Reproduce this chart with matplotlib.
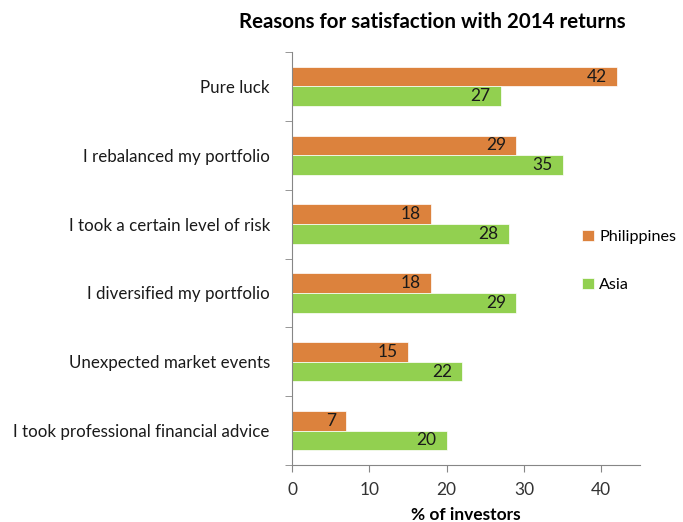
import numpy as np
import matplotlib.pyplot as plt

plt.rcParams['font.family'] = ['Lato', 'DejaVu Sans']

categories = ["Pure luck", "I rebalanced my portfolio", "I took a certain level of risk",
              "I diversified my portfolio", "Unexpected market events",
              "I took professional financial advice"]
philippines = [42, 29, 18, 18, 15, 7]
asia = [27, 35, 28, 29, 22, 20]

orange = '#dc823d'
green = '#92d050'

fig = plt.figure(figsize=(6.83, 5.22), dpi=100)
ax = fig.add_axes([292 / 683, 1 - 465 / 522, 348 / 683, 413 / 522])

y = np.arange(len(categories))
h = 0.285
b1 = ax.barh(y - h / 2, philippines, height=h, color=orange, edgecolor='white', linewidth=0.5,
             label='Philippines')
b2 = ax.barh(y + h / 2, asia, height=h, color=green, edgecolor='white', linewidth=0.5, label='Asia')

for bars, vals in ((b1, philippines), (b2, asia)):
    for bar, v in zip(bars, vals):
        ax.text(v - 1.3, bar.get_y() + bar.get_height() / 2, str(v), ha='right', va='center',
                fontsize=12.5, color='#1a1a1a')

ax.set_xlim(0, 45)
ax.set_ylim(len(categories) - 0.5, -0.5)
ax.set_xticks([0, 10, 20, 30, 40])
ax.set_yticks(y)
ax.set_yticklabels(categories)
ax.set_yticks(np.arange(-0.5, len(categories)), minor=True)
ax.tick_params(axis='y', which='major', length=0, pad=16, labelsize=12.2, labelcolor='#1a1a1a')
ax.tick_params(axis='y', which='minor', length=5, color='#868686', direction='out')
ax.tick_params(axis='x', length=5, color='#868686', labelsize=12.5, labelcolor='#333333', pad=7)

for s in ('top', 'right'):
    ax.spines[s].set_visible(False)
for s in ('left', 'bottom'):
    ax.spines[s].set_color('#868686')

ax.set_xlabel('% of investors', fontsize=12.5, fontweight='bold', labelpad=7)
fig.text(432 / 683, 1 - 22 / 522, 'Reasons for satisfaction with 2014 returns', ha='center',
         va='center', fontsize=14.8, fontweight='bold')

fig.legend(handles=[b1, b2], loc='center left', bbox_to_anchor=(576 / 683, 1 - 261 / 522),
           frameon=False, fontsize=11.6, handlelength=0.7, handleheight=0.7, labelspacing=2.1,
           handletextpad=0.35, borderpad=0.2, borderaxespad=0.2)

fig.savefig('out.png', dpi=100)
